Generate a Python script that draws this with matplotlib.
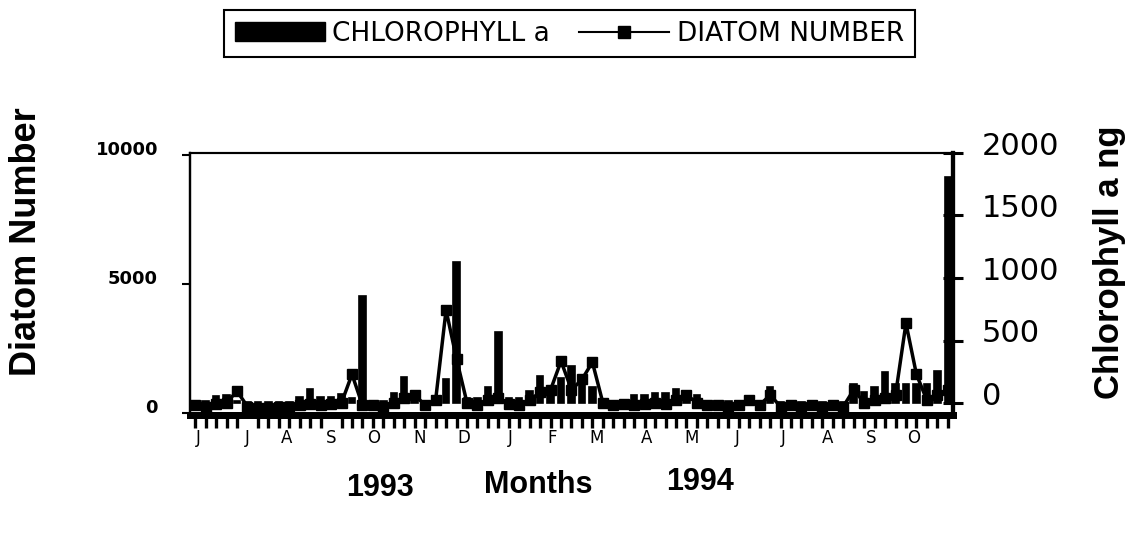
import numpy as np
import matplotlib.pyplot as plt
from matplotlib.patches import Patch
from matplotlib.lines import Line2D
import matplotlib.transforms as mtransforms

# weekly samples, June 1993 - October 1994
n_samples = 73
sample_idx = np.arange(n_samples)

# diatom number (left axis)
diatom = [300, 250, 350, 400, 850, 250, 200, 200, 250, 250,
          300, 350, 300, 350, 400, 1500, 300, 300, 250, 400,
          600, 700, 300, 500, 3990, 2100, 400, 300, 500, 600,
          350, 300, 500, 800, 900, 2010, 900, 1300, 1970, 400,
          300, 350, 300, 350, 400, 350, 500, 700, 400, 300,
          300, 250, 300, 500, 300, 700, 250, 300, 250, 300,
          250, 300, 250, 900, 400, 500, 600, 700, 3480, 1500,
          500, 700, 900]

# chlorophyll a ng (right axis)
chlorophyll = [10, 20, 60, 65, 15, 10, 10, 10, 10, 10,
               45, 110, 45, 45, 70, 40, 856, 15, 15, 80,
               205, 60, 10, 60, 190, 1128, 40, 40, 125, 568,
               40, 40, 95, 215, 85, 200, 300, 180, 125, 10,
               10, 10, 63, 63, 80, 80, 110, 95, 63, 15,
               15, 15, 15, 55, 15, 126, 10, 10, 10, 10,
               10, 10, 10, 150, 85, 126, 245, 150, 150, 150,
               150, 260, 1808]

month_labels = ['J', 'J', 'A', 'S', 'O', 'N', 'D', 'J', 'F', 'M',
                'A', 'M', 'J', 'J', 'A', 'S', 'O']
month_pos = [0.3, 5.0, 8.7, 13.0, 17.1, 21.5, 25.7, 30.1, 34.1, 38.4,
             43.2, 47.5, 51.9, 56.3, 60.5, 64.7, 68.7]

fig = plt.figure(figsize=(11.39, 5.36), dpi=100)
ax = fig.add_axes([0.1668, 0.2257, 0.6699, 0.4889])
ax2 = ax.twinx()

# chlorophyll bars on the right axis
ax2.bar(sample_idx, chlorophyll, width=0.62, color='black',
        edgecolor='black', linewidth=1.2, zorder=2)
ax2.set_ylim(-96, 2000)
ax2.set_yticks([0, 500, 1000, 1500, 2000])
ax2.tick_params(axis='y', direction='inout', length=14, width=2.2,
                labelsize=22, pad=14)
for lab in ax2.get_yticklabels():
    lab.set_transform(lab.get_transform() +
                      mtransforms.ScaledTranslation(0, 7 / 72, fig.dpi_scale_trans))

# diatom line on the left axis, drawn above the bars
ax.set_zorder(ax2.get_zorder() + 1)
ax.patch.set_visible(False)
ax.plot(sample_idx, diatom, color='black', linewidth=2.5, marker='s',
        markersize=7.5, zorder=3)
ax.set_ylim(-78, 10078)
ax.set_xlim(-0.5, n_samples - 0.5)
ax.set_yticks([0, 5000, 10000])
ax.tick_params(axis='y', direction='out', length=6, width=1.5,
               labelsize=13, pad=17)
for lab in ax.get_yticklabels():
    lab.set_fontweight('bold')
    lab.set_transform(lab.get_transform() +
                      mtransforms.ScaledTranslation(0, 5 / 72, fig.dpi_scale_trans))

ax.set_xticks(month_pos)
ax.set_xticklabels(month_labels, fontsize=12)
ax.set_xticks(sample_idx, minor=True)
ax.tick_params(axis='x', which='major', length=0, pad=10)
ax.tick_params(axis='x', which='minor', direction='out', length=9, width=2.4)

for a in (ax, ax2):
    a.spines['top'].set_linewidth(1.5)
    a.spines['left'].set_linewidth(1.6)
    a.spines['bottom'].set_linewidth(5)
    a.spines['right'].set_linewidth(3)

# axis titles
fig.text(0.0237, 0.55, 'Diatom Number', rotation=90, ha='center', va='center',
         fontsize=26, fontweight='bold', family='Liberation Sans')
fig.text(0.9745, 0.511, 'Chlorophyll a ng', rotation=90, ha='center', va='center',
         fontsize=25, fontweight='bold', family='Liberation Sans')
fig.text(380 / 1139, 1 - 488 / 536, '1993', ha='center', va='center',
         fontsize=22, fontweight='bold', family='Liberation Sans')
fig.text(538 / 1139, 1 - 485 / 536, 'Months', ha='center', va='center',
         fontsize=22, fontweight='bold', family='Liberation Sans')
fig.text(700 / 1139, 1 - 482 / 536, '1994', ha='center', va='center',
         fontsize=22, fontweight='bold', family='Liberation Sans')

handles = [Patch(facecolor='black', edgecolor='black'),
           Line2D([], [], color='black', linewidth=1.5, marker='s', markersize=8)]
leg = fig.legend(handles, ['CHLOROPHYLL a', 'DIATOM NUMBER'], ncol=2,
                 loc='center', bbox_to_anchor=(0.5, 0.937), fontsize=19,
                 handlelength=3.4, handleheight=0.7, handletextpad=0.3,
                 columnspacing=1.1, fancybox=False, edgecolor='black',
                 framealpha=1, borderpad=0.4)
leg.get_frame().set_linewidth(1.5)

fig.savefig('out.png', dpi=100)
